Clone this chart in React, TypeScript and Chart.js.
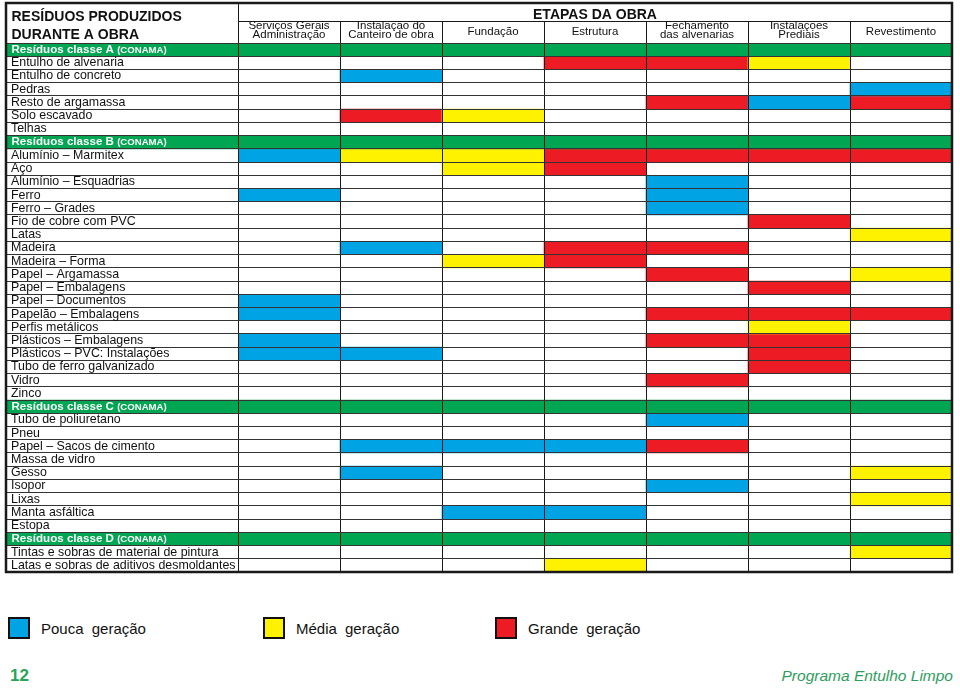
import React, { useEffect, useRef } from "react";
import { Chart, registerables } from "chart.js";

Chart.register(...registerables);

const FONT = "'Liberation Sans', Arial, Helvetica, sans-serif";

// ---------- data ----------
const tableTitle = ["RESÍDUOS PRODUZIDOS", "DURANTE A OBRA"];
const stagesTitle = "ETAPAS DA OBRA";
const stageLabels: string[][] = [
  ["Serviços Gerais", "Administração"],
  ["Instalação do", "Canteiro de obra"],
  ["Fundação"],
  ["Estrutura"],
  ["Fechamento", "das alvenarias"],
  ["Instalações", "Prediais"],
  ["Revestimento"],
];

const rowLabels = [
  "Resíduos classe A",
  "Entulho de alvenaria",
  "Entulho de concreto",
  "Pedras",
  "Resto de argamassa",
  "Solo escavado",
  "Telhas",
  "Resíduos classe B",
  "Alumínio – Marmitex",
  "Aço",
  "Alumínio – Esquadrias",
  "Ferro",
  "Ferro – Grades",
  "Fio de cobre com PVC",
  "Latas",
  "Madeira",
  "Madeira – Forma",
  "Papel – Argamassa",
  "Papel – Embalagens",
  "Papel – Documentos",
  "Papelão – Embalagens",
  "Perfis metálicos",
  "Plásticos – Embalagens",
  "Plásticos – PVC: Instalações",
  "Tubo de ferro galvanizado",
  "Vidro",
  "Zinco",
  "Resíduos classe C",
  "Tubo de poliuretano",
  "Pneu",
  "Papel – Sacos de cimento",
  "Massa de vidro",
  "Gesso",
  "Isopor",
  "Lixas",
  "Manta asfáltica",
  "Estopa",
  "Resíduos classe D",
  "Tintas e sobras de material de pintura",
  "Latas e sobras de aditivos desmoldantes",
];
const headerRows = [0, 7, 27, 37];
const headerSuffix = "(CONAMA)";

// generation level per row for each stage: 0 none, 1 pouca, 2 média, 3 grande
const servicosGerais = [0,0,0,0,0,0,0,0,1,0, 0,1,0,0,0,0,0,0,0,1, 1,0,1,1,0,0,0,0,0,0, 0,0,0,0,0,0,0,0,0,0];
const instalacaoCanteiro = [0,0,1,0,0,3,0,0,2,0, 0,0,0,0,0,1,0,0,0,0, 0,0,0,1,0,0,0,0,0,0, 1,0,1,0,0,0,0,0,0,0];
const fundacao = [0,0,0,0,0,2,0,0,2,2, 0,0,0,0,0,0,2,0,0,0, 0,0,0,0,0,0,0,0,0,0, 1,0,0,0,0,1,0,0,0,0];
const estrutura = [0,3,0,0,0,0,0,0,3,3, 0,0,0,0,0,3,3,0,0,0, 0,0,0,0,0,0,0,0,0,0, 1,0,0,0,0,1,0,0,0,2];
const fechamento = [0,3,0,0,3,0,0,0,3,0, 1,1,1,0,0,3,0,3,0,0, 3,0,3,0,0,3,0,0,1,0, 3,0,0,1,0,0,0,0,0,0];
const instalacoesPrediais = [0,2,0,0,1,0,0,0,3,0, 0,0,0,3,0,0,0,0,3,0, 3,2,3,3,3,0,0,0,0,0, 0,0,0,0,0,0,0,0,0,0];
const revestimento = [0,0,0,1,3,0,0,0,3,0, 0,0,0,0,2,0,0,2,0,0, 3,0,0,0,0,0,0,0,0,0, 0,0,2,0,2,0,0,0,2,0];
const stageLevels = [servicosGerais, instalacaoCanteiro, fundacao, estrutura, fechamento, instalacoesPrediais, revestimento];

const levelNames = ["Pouca geração", "Média geração", "Grande geração"];
const levelColors = ["#00a3e4", "#fff200", "#ed1c24"];
const headerColor = "#00a651";
const footerPage = "12";
const footerProgram = "Programa Entulho Limpo";

// width of the label column expressed in stage-column units
const LABEL_UNITS = 232 / 102;
const N_STAGES = stageLabels.length;

// ---------- datasets ----------
const headerDataset = {
  label: "classes",
  data: headerRows.map((r) => ({ x: [-LABEL_UNITS, N_STAGES], y: rowLabels[r] })),
  backgroundColor: headerColor,
};
const levelDatasets = levelNames.map((name, li) => {
  const data: { x: number[]; y: string }[] = [];
  stageLevels.forEach((arr, s) =>
    arr.forEach((lv, r) => {
      if (lv === li + 1) data.push({ x: [s, s + 1], y: rowLabels[r] });
    })
  );
  return { label: name, data, backgroundColor: levelColors[li] };
});

const px = (v: number) => Math.round(v) + 0.5;

const tableHeaderPlugin = {
  id: "tableHeader",
  afterDraw(chart: any) {
    const { ctx, chartArea } = chart;
    const xs = chart.scales.x;
    const ys = chart.scales.y;
    const left = xs.getPixelForValue(-LABEL_UNITS);
    const colStart = xs.getPixelForValue(0);
    const right = xs.getPixelForValue(N_STAGES);
    const gridTop = chartArea.top;
    const top = gridTop - 40;
    const bandBottom = gridTop - 22;
    ctx.save();

    // class header rows text
    ctx.textAlign = "left";
    ctx.textBaseline = "middle";
    ctx.fillStyle = "#ffffff";
    headerRows.forEach((r) => {
      const yy = ys.getPixelForValue(r);
      ctx.font = `bold 11.6px ${FONT}`;
      ctx.fillText(rowLabels[r], left + 5.5, yy);
      const w = ctx.measureText(rowLabels[r] + " ").width;
      ctx.font = `bold 9.6px ${FONT}`;
      ctx.fillText(headerSuffix, left + 5.5 + w, yy + 0.5);
    });

    // header lines
    ctx.strokeStyle = "#1a1a1a";
    ctx.lineWidth = 1;
    ctx.beginPath();
    ctx.moveTo(px(colStart), top);
    ctx.lineTo(px(colStart), gridTop);
    ctx.moveTo(colStart, px(bandBottom));
    ctx.lineTo(right, px(bandBottom));
    for (let s = 1; s < N_STAGES; s++) {
      const xx = px(xs.getPixelForValue(s));
      ctx.moveTo(xx, bandBottom);
      ctx.lineTo(xx, gridTop);
    }
    ctx.stroke();

    // outer border
    ctx.lineWidth = 2.5;
    ctx.strokeRect(left, top, right - left, chartArea.bottom - top);

    // title
    ctx.fillStyle = "#111";
    ctx.textBaseline = "alphabetic";
    ctx.font = `bold 14px ${FONT}`;
    ctx.fillText(tableTitle[0], left + 5.5, top + 18);
    ctx.fillText(tableTitle[1], left + 5.5, top + 35.5);

    ctx.textAlign = "center";
    ctx.font = `bold 14px ${FONT}`;
    ctx.fillText(stagesTitle, (colStart + right) / 2, top + 15.5);

    ctx.font = `11.5px ${FONT}`;
    stageLabels.forEach((lines, s) => {
      const cx = (xs.getPixelForValue(s) + xs.getPixelForValue(s + 1)) / 2;
      if (lines.length === 1) {
        ctx.fillText(lines[0], cx, gridTop - 8.5);
      } else {
        ctx.fillText(lines[0], cx, gridTop - 14);
        ctx.fillText(lines[1], cx, gridTop - 4.7);
      }
    });
    ctx.restore();
  },
};

export default function App() {
  const ref = useRef<HTMLCanvasElement>(null);

  useEffect(() => {
    if (!ref.current) return;
    Chart.defaults.font.family = FONT;
    const chart = new Chart(ref.current, {
      type: "bar",
      data: { labels: rowLabels, datasets: [headerDataset, ...levelDatasets] as any },
      options: {
        indexAxis: "y",
        animation: false,
        responsive: false,
        events: [],
        layout: { padding: { top: 43, left: 6, right: 8, bottom: 8 } },
        datasets: {
          bar: { barPercentage: 1, categoryPercentage: 1, grouped: false, borderWidth: 0 },
        } as any,
        plugins: {
          legend: { display: false },
          tooltip: { enabled: false },
        },
        scales: {
          x: {
            type: "linear",
            position: "top",
            min: -LABEL_UNITS,
            max: N_STAGES,
            afterBuildTicks: (s: any) => {
              const vals = [-LABEL_UNITS];
              for (let i = 0; i <= N_STAGES; i++) vals.push(i);
              s.ticks = vals.map((v) => ({ value: v }));
            },
            afterFit: (s: any) => {
              s.height = 0;
              s.paddingLeft = 0;
              s.paddingRight = 0;
            },
            ticks: { display: false },
            grid: { color: "#1a1a1a", lineWidth: 1, drawTicks: false, z: 1 },
            border: { display: false },
          },
          y: {
            type: "category",
            offset: true,
            afterFit: (s: any) => {
              s.width = 0;
              s.paddingTop = 0;
              s.paddingBottom = 0;
            },
            grid: { offset: true, color: "#333333", lineWidth: 1, drawTicks: false, z: 1 },
            border: { display: false },
            ticks: {
              mirror: true,
              padding: 5,
              autoSkip: false,
              z: 2,
              color: "#111",
              font: { family: FONT, size: 12.4, lineHeight: 1 },
              callback: (_v: any, i: number) => (headerRows.includes(i) ? "" : rowLabels[i]),
            },
          },
        } as any,
      },
      plugins: [tableHeaderPlugin],
    });
    return () => chart.destroy();
  }, []);

  const legendX = [8, 263, 495];

  return (
    <div
      style={{
        position: "absolute",
        left: 0,
        top: 0,
        width: 960,
        height: 689,
        overflow: "hidden",
        background: "#fff",
        fontFamily: FONT,
      }}
    >
      <canvas
        ref={ref}
        width={960}
        height={580}
        style={{ position: "absolute", left: 0, top: 0, width: 960, height: 580 }}
      />
      {levelNames.map((name, i) => (
        <React.Fragment key={name}>
          <div
            style={{
              position: "absolute",
              left: legendX[i],
              top: 617,
              width: 22,
              height: 22,
              boxSizing: "border-box",
              border: "2px solid #111",
              background: levelColors[i],
            }}
          />
          <div
            style={{
              position: "absolute",
              left: legendX[i] + 33,
              top: 621,
              fontSize: 15,
              lineHeight: "15px",
              wordSpacing: 4,
              color: "#111",
              whiteSpace: "nowrap",
            }}
          >
            {name}
          </div>
        </React.Fragment>
      ))}
      <div
        style={{
          position: "absolute",
          left: 10,
          top: 667,
          fontSize: 17,
          lineHeight: "17px",
          fontWeight: "bold",
          color: "#27a35a",
        }}
      >
        {footerPage}
      </div>
      <div
        style={{
          position: "absolute",
          right: 7,
          top: 668,
          fontSize: 15.5,
          lineHeight: "15.5px",
          fontStyle: "italic",
          color: "#2e9e5e",
          whiteSpace: "nowrap",
        }}
      >
        {footerProgram}
      </div>
    </div>
  );
}
